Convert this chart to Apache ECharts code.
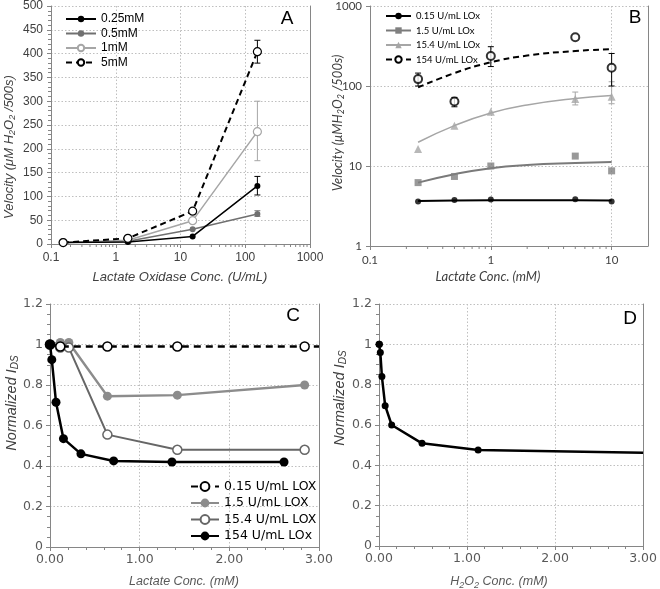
<!DOCTYPE html>
<html>
<head>
<meta charset="utf-8">
<script src="https://cdn.jsdelivr.net/npm/echarts@6/dist/echarts.min.js"></script>
<style>html,body{margin:0;padding:0;background:#fff}#c{width:660px;height:589px}</style>
</head>
<body>
<div id="c"></div>
<script>
// ---------- Panel A data ----------
const aX = [0.154, 1.54, 15.4, 154];
const aNames = ['0.25mM', '0.5mM', '1mM', '5mM'];
const a025 = [3, 4, 16, 122];
const a05 = [3, 6, 31, 63];
const a1 = [3, 8, 49, 236];
const a5 = [3, 12, 69, 404];
const aErr025 = [[154, 103, 142]];
const aErr05 = [[154, 58, 70]];
const aErr1 = [[154, 175, 300]];
const aErr5 = [[154, 380, 428]];
const aMinorX = [0.2,0.3,0.4,0.5,0.6,0.7,0.8,0.9,2,3,4,5,6,7,8,9,20,30,40,50,60,70,80,90,200,300,400,500,600,700,800,900];

// ---------- Panel B data ----------
const bX = [0.25, 0.5, 1, 5, 10];
const bNames = ['0.15 U/mL LOx', '1.5 U/mL LOx', '15.4 U/mL LOx', '154 U/mL LOx'];
const b015 = [3.6, 3.75, 3.8, 3.85, 3.6];
const b15 = [6.2, 7.4, 10, 13.3, 8.7];
const b154 = [16.3, 31.9, 47.8, 68.8, 73.6];
const b154U = [122, 64, 237, 406, 169];
const bFitX = [0.25, 0.5, 1, 2, 5, 10];
const bFit015 = [3.65, 3.7, 3.72, 3.72, 3.72, 3.7];
const bFit15 = [6.2, 7.9, 9.4, 10.3, 10.9, 11.2];
const bFit154 = [19.8, 32, 46, 58, 70, 76];
const bFit154U = [96, 145, 198, 240, 274, 288];
const bErr154 = [[5, 58, 84], [10, 60, 113]];
const bErr154U = [[0.25, 100, 145], [0.5, 55, 72], [1, 175, 310], [10, 100, 255]];
const bMinorX = [0.2,0.3,0.4,0.5,0.6,0.7,0.8,0.9,2,3,4,5,6,7,8,9];

// ---------- Panel C data ----------
const cNames = ['0.15 U/mL LOX', '1.5 U/mL LOX', '15.4 U/mL LOX', '154 U/mL LOx\u200b'];
const cX015 = [0, 0.115, 0.64, 1.42, 2.84, 3.0];
const cY015 = [1.0, 0.99, 0.99, 0.99, 0.99, 0.99];
const cX15 = [0, 0.115, 0.21, 0.64, 1.42, 2.84];
const cY15 = [1.0, 1.01, 1.01, 0.745, 0.75, 0.80];
const cX154 = [0, 0.115, 0.21, 0.64, 1.42, 2.84];
const cY154 = [1.0, 0.985, 0.985, 0.555, 0.48, 0.48];
const cX154U = [0, 0.02, 0.067, 0.15, 0.345, 0.71, 1.36, 2.61];
const cY154U = [1.0, 0.925, 0.715, 0.535, 0.46, 0.425, 0.42, 0.42];

// ---------- Panel D data ----------
const dX = [0, 0.005, 0.015, 0.033, 0.07, 0.144, 0.489, 1.126, 3.0];
const dY = [1.0, 1.0, 0.96, 0.84, 0.696, 0.6, 0.509, 0.476, 0.463];

const zip = (xs, ys) => xs.map((x, i) => [x, ys[i]]);
const AX = '#868686', GRID = '#bfbfbf', LBL = '#404040', LBL2 = '#595959';
const FONT = 'Liberation Sans';
const logFmt = v => String(+(+v).toPrecision(6));

function errSeries(data, xi, yi, color) {
  return {
    type: 'custom', xAxisIndex: xi, yAxisIndex: yi, data: data, z: 1,
    encode: { x: 0, y: [1, 2] }, silent: true,
    renderItem: function (params, api) {
      const x = api.value(0);
      const p1 = api.coord([x, api.value(1)]);
      const p2 = api.coord([x, api.value(2)]);
      const w = 3;
      const st = { stroke: color, lineWidth: 1 };
      return { type: 'group', children: [
        { type: 'line', shape: { x1: p1[0], y1: p1[1], x2: p2[0], y2: p2[1] }, style: st },
        { type: 'line', shape: { x1: p1[0] - w, y1: p1[1], x2: p1[0] + w, y2: p1[1] }, style: st },
        { type: 'line', shape: { x1: p2[0] - w, y1: p2[1], x2: p2[0] + w, y2: p2[1] }, style: st }
      ]};
    }
  };
}
function minorTickSeries(vals, base, xi, yi) {
  return {
    type: 'custom', xAxisIndex: xi, yAxisIndex: yi, silent: true,
    data: vals.map(v => [v, base]), encode: { x: 0, y: 1 },
    renderItem: function (params, api) {
      const p = api.coord([api.value(0), api.value(1)]);
      return { type: 'line', shape: { x1: p[0], y1: p[1], x2: p[0], y2: p[1] + 3 }, style: { stroke: AX, lineWidth: 1 } };
    }
  };
}
const splitDotted = { show: true, lineStyle: { color: GRID, type: [1.5, 2], width: 1 } };
function rightAxis(gi, type, min, max) {
  return { type: type, gridIndex: gi, position: 'right', min: min, max: max,
    axisLine: { show: true, lineStyle: { color: AX } }, axisTick: { show: false },
    axisLabel: { show: false }, splitLine: { show: false } };
}
function subRich(size, family, color) {
  return { sub: { fontSize: size, fontStyle: 'italic', fontFamily: family, fill: color, verticalAlign: 'bottom', padding: [Math.round(size * 0.7), 0, 0, 0] } };
}
function nameText(text, x, y, size, family, color, rot) {
  return { type: 'text', x: x, y: y, rotation: rot ? Math.PI / 2 : 0, silent: true,
    style: { text: text, font: 'italic ' + size + 'px "' + family + '"', fill: color,
      align: 'center', verticalAlign: 'middle', rich: subRich(Math.round(size * 0.7), family, color) } };
}
function letter(t, x, y) {
  return { type: 'text', x: x, y: y, silent: true, style: { text: t, font: '19px "Liberation Sans"', fill: '#000', align: 'center', verticalAlign: 'middle' } };
}
const tickA = { length: 4, lineStyle: { color: AX } };
const minorA = (n) => ({ show: true, splitNumber: n, length: 3, lineStyle: { color: AX } });

const option = {
  animation: false,
  textStyle: { fontFamily: FONT },
  grid: [
    { left: 51, top: 6, width: 259, height: 238 },
    { left: 370, top: 6, width: 278, height: 240 },
    { left: 50, top: 304, width: 269, height: 243 },
    { left: 379, top: 304, width: 270, height: 242 }
  ],
  xAxis: [
    { type: 'log', gridIndex: 0, min: 0.1, max: 1000, logBase: 10,
      axisLine: { lineStyle: { color: AX } }, axisTick: tickA,
      axisLabel: { color: LBL, fontSize: 12, margin: 8, formatter: logFmt }, splitLine: splitDotted },
    { type: 'log', gridIndex: 1, min: 0.1, max: 20, logBase: 10,
      axisLine: { lineStyle: { color: AX } }, axisTick: tickA,
      axisLabel: { color: LBL, fontSize: 11.5, fontFamily: 'Lato', margin: 8, showMaxLabel: false, formatter: logFmt },
      splitLine: splitDotted },
    { type: 'value', gridIndex: 2, min: 0, max: 3, interval: 1,
      axisLine: { lineStyle: { color: AX } }, axisTick: tickA, minorTick: minorA(5),
      axisLabel: { color: LBL2, fontSize: 12.5, fontFamily: 'DejaVu Sans', margin: 6, formatter: v => v.toFixed(2) },
      splitLine: splitDotted },
    { type: 'value', gridIndex: 3, min: 0, max: 3, interval: 1,
      axisLine: { lineStyle: { color: AX } }, axisTick: tickA, minorTick: minorA(5),
      axisLabel: { color: LBL2, fontSize: 12.5, fontFamily: 'DejaVu Sans', margin: 6, formatter: v => v.toFixed(2) },
      splitLine: splitDotted }
  ],
  yAxis: [
    { type: 'value', gridIndex: 0, min: 0, max: 500, interval: 50,
      axisLine: { show: true, lineStyle: { color: AX } }, axisTick: Object.assign({ show: true }, tickA), minorTick: minorA(5),
      axisLabel: { color: LBL, fontSize: 12, margin: 8 }, splitLine: splitDotted },
    { type: 'log', gridIndex: 1, min: 1, max: 1000, logBase: 10,
      axisLine: { show: true, lineStyle: { color: AX } }, axisTick: Object.assign({ show: true }, tickA),
      axisLabel: { color: LBL, fontSize: 11.5, fontFamily: 'Lato', margin: 8, formatter: logFmt }, splitLine: splitDotted },
    { type: 'value', gridIndex: 2, min: 0, max: 1.2, interval: 0.2,
      axisLine: { show: true, lineStyle: { color: AX } }, axisTick: Object.assign({ show: true }, tickA), minorTick: minorA(4),
      axisLabel: { color: LBL2, fontSize: 12.5, fontFamily: 'DejaVu Sans', margin: 7 }, splitLine: splitDotted },
    { type: 'value', gridIndex: 3, min: 0, max: 1.2, interval: 0.2,
      axisLine: { show: true, lineStyle: { color: AX } }, axisTick: Object.assign({ show: true }, tickA), minorTick: minorA(4),
      axisLabel: { color: LBL2, fontSize: 12.5, fontFamily: 'DejaVu Sans', margin: 7 }, splitLine: splitDotted },
    rightAxis(0, 'value', 0, 500),
    rightAxis(1, 'log', 1, 1000),
    rightAxis(2, 'value', 0, 1.2),
    rightAxis(3, 'value', 0, 1.2)
  ],
  legend: [
    { left: 60, top: 8, orient: 'vertical', itemWidth: 30, itemHeight: 8, itemGap: 2.5, selectedMode: false,
      data: aNames, textStyle: { fontSize: 12, color: '#000' } },
    { left: 380, top: 6, orient: 'vertical', itemWidth: 25, itemHeight: 8, itemGap: 4.5, selectedMode: false,
      data: bNames, textStyle: { fontSize: 9.5, color: '#000', fontFamily: 'Lato' } },
    { left: 185, top: 475, orient: 'vertical', itemWidth: 28, itemHeight: 11, itemGap: 3.5, selectedMode: false,
      data: cNames, textStyle: { fontSize: 12.5, color: '#000', fontFamily: 'DejaVu Sans' } }
  ],
  graphic: [
    letter('A', 287, 19), letter('B', 635, 18), letter('C', 293, 316), letter('D', 630, 319),
    nameText('Lactate Oxidase Conc. (U/mL)', 180, 277, 13, 'Liberation Sans', LBL, false),
    nameText('Velocity (μM H{sub|2}O{sub|2} /500s)', 9, 147, 13, 'Liberation Sans', LBL, true),
    nameText('Lactate Conc. (mM)', 488, 277, 13, 'Lato', LBL, false),
    nameText('Velocity (μMH{sub|2}O{sub|2} /500s)', 338, 123, 13, 'Lato', LBL, true),
    nameText('Lactate Conc. (mM)', 184, 582, 12.5, 'Liberation Sans', LBL2, false),
    nameText('Normalized I{sub|DS}', 12, 403, 14.5, 'Liberation Sans', LBL, true),
    nameText('H{sub|2}O{sub|2} Conc. (mM)', 499, 582, 12.5, 'Liberation Sans', LBL2, false),
    nameText('Normalized I{sub|DS}', 340, 398, 14.5, 'Liberation Sans', LBL, true)
  ],
  series: [
    // Panel A
    minorTickSeries(aMinorX, 0, 0, 0),
    errSeries(aErr05, 0, 0, '#7f7f7f'),
    errSeries(aErr1, 0, 0, '#a6a6a6'),
    errSeries(aErr025, 0, 0, '#000'),
    errSeries(aErr5, 0, 0, '#000'),
    { name: aNames[1], type: 'line', xAxisIndex: 0, yAxisIndex: 0, data: zip(aX, a05), symbol: 'circle', symbolSize: 6,
      lineStyle: { color: '#707070', width: 1.5 }, itemStyle: { color: '#707070' }, z: 3 },
    { name: aNames[2], type: 'line', xAxisIndex: 0, yAxisIndex: 0, data: zip(aX, a1), symbol: 'circle', symbolSize: 8,
      lineStyle: { color: '#a6a6a6', width: 1.5 }, itemStyle: { color: '#fff', borderColor: '#a6a6a6', borderWidth: 1.2 }, z: 3 },
    { name: aNames[0], type: 'line', xAxisIndex: 0, yAxisIndex: 0, data: zip(aX, a025), symbol: 'circle', symbolSize: 6,
      lineStyle: { color: '#000', width: 1.5 }, itemStyle: { color: '#000' }, z: 4 },
    { name: aNames[3], type: 'line', xAxisIndex: 0, yAxisIndex: 0, data: zip(aX, a5), symbol: 'circle', symbolSize: 8,
      lineStyle: { color: '#000', width: 2, type: [6, 4] }, itemStyle: { color: '#fff', borderColor: '#000', borderWidth: 1.2 }, z: 5 },
    // Panel B
    minorTickSeries(bMinorX, 1, 1, 1),
    errSeries(bErr154, 1, 1, '#a6a6a6'),
    errSeries(bErr154U, 1, 1, '#000'),
    { name: bNames[0], type: 'line', xAxisIndex: 1, yAxisIndex: 1, data: zip(bFitX, bFit015), showSymbol: false, symbol: 'circle', symbolSize: 5,
      lineStyle: { color: '#000', width: 2 }, itemStyle: { color: '#000' }, z: 3 },
    { name: bNames[1], type: 'line', xAxisIndex: 1, yAxisIndex: 1, data: zip(bFitX, bFit15), smooth: true, showSymbol: false, symbol: 'rect', symbolSize: 7,
      lineStyle: { color: '#7a7a7a', width: 2 }, itemStyle: { color: '#808080' }, z: 3 },
    { name: bNames[2], type: 'line', xAxisIndex: 1, yAxisIndex: 1, data: zip(bFitX, bFit154), smooth: true, showSymbol: false, symbol: 'triangle', symbolSize: 8,
      lineStyle: { color: '#a6a6a6', width: 1.5 }, itemStyle: { color: '#a6a6a6' }, z: 3 },
    { name: bNames[3], type: 'line', xAxisIndex: 1, yAxisIndex: 1, data: zip(bFitX, bFit154U), smooth: true, showSymbol: false, symbol: 'circle', symbolSize: 8,
      lineStyle: { color: '#000', width: 2, type: [6, 4] }, itemStyle: { color: '#fff', borderColor: '#000', borderWidth: 2 }, z: 3 },
    { name: 'b015pts', type: 'scatter', xAxisIndex: 1, yAxisIndex: 1, data: zip(bX, b015), symbol: 'circle', symbolSize: 6,
      itemStyle: { color: '#000' }, z: 4 },
    { name: 'b15pts', type: 'scatter', xAxisIndex: 1, yAxisIndex: 1, data: zip(bX, b15), symbol: 'rect', symbolSize: 7,
      itemStyle: { color: '#808080' }, z: 4 },
    { name: 'b154pts', type: 'scatter', xAxisIndex: 1, yAxisIndex: 1, data: zip(bX, b154), symbol: 'triangle', symbolSize: 8,
      itemStyle: { color: '#a6a6a6' }, z: 4 },
    { name: 'b154Upts', type: 'scatter', xAxisIndex: 1, yAxisIndex: 1, data: zip(bX, b154U), symbol: 'circle', symbolSize: 8,
      itemStyle: { color: '#fff', borderColor: '#000', borderWidth: 2 }, z: 5 },
    // Panel C
    { name: cNames[1], type: 'line', xAxisIndex: 2, yAxisIndex: 2, data: zip(cX15, cY15), symbol: 'circle', symbolSize: 9,
      lineStyle: { color: '#8c8c8c', width: 2.5 }, itemStyle: { color: '#8c8c8c' }, z: 3 },
    { name: cNames[2], type: 'line', xAxisIndex: 2, yAxisIndex: 2, data: zip(cX154, cY154), symbol: 'circle', symbolSize: 9,
      lineStyle: { color: '#666', width: 2 }, itemStyle: { color: '#fff', borderColor: '#666', borderWidth: 1.5 }, z: 4 },
    { name: cNames[0], type: 'line', xAxisIndex: 2, yAxisIndex: 2,
      data: zip(cX015, cY015).map((d, i) => i === cX015.length - 1 ? { value: d, symbol: 'none' } : d),
      symbol: 'circle', symbolSize: 9,
      lineStyle: { color: '#000', width: 2.5, type: [7, 5] }, itemStyle: { color: '#fff', borderColor: '#000', borderWidth: 1.5 }, z: 5 },
    { name: cNames[3], type: 'line', xAxisIndex: 2, yAxisIndex: 2, data: zip(cX154U, cY154U), symbol: 'circle', symbolSize: 9,
      lineStyle: { color: '#000', width: 2.5 }, itemStyle: { color: '#000' }, z: 6 },
    // Panel D
    { name: 'D', type: 'line', xAxisIndex: 3, yAxisIndex: 3,
      data: zip(dX, dY).map((d, i) => i === dX.length - 1 ? { value: d, symbol: 'none' } : d),
      symbol: 'circle', symbolSize: 7,
      lineStyle: { color: '#000', width: 2.5 }, itemStyle: { color: '#000' }, z: 3 }
  ]
};
const chart = echarts.init(document.getElementById('c'), null, { renderer: 'canvas' });
chart.setOption(option);
</script>
</body>
</html>
